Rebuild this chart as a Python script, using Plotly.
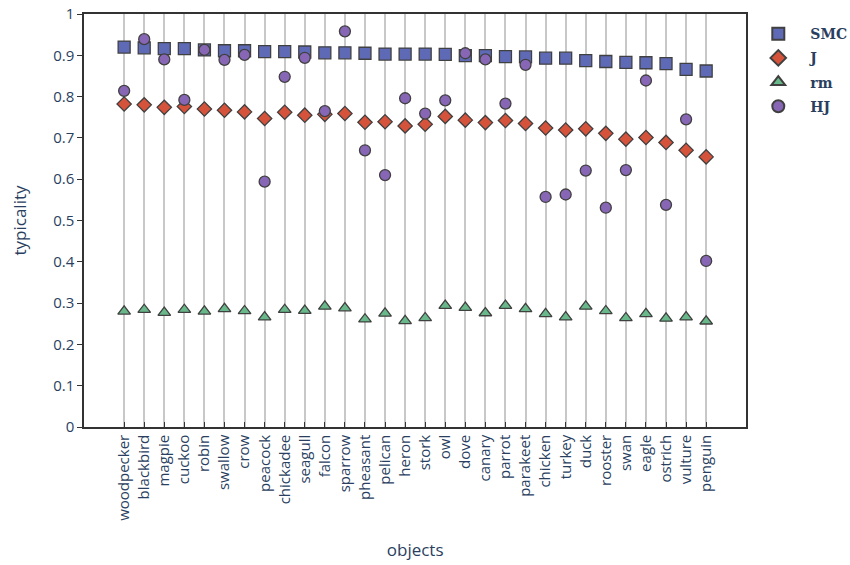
import plotly.graph_objects as go

objects = ["woodpecker", "blackbird", "magpie", "cuckoo", "robin", "swallow", "crow",
           "peacock", "chickadee", "seagull", "falcon", "sparrow", "pheasant", "pelican",
           "heron", "stork", "owl", "dove", "canary", "parrot", "parakeet", "chicken",
           "turkey", "duck", "rooster", "swan", "eagle", "ostrich", "vulture", "penguin"]

smc = [0.920, 0.918, 0.916, 0.916, 0.913, 0.911, 0.911, 0.909, 0.909, 0.908,
       0.906, 0.906, 0.905, 0.903, 0.903, 0.903, 0.902, 0.899, 0.899, 0.897,
       0.896, 0.893, 0.893, 0.887, 0.885, 0.883, 0.882, 0.880, 0.866, 0.862]

j = [0.782, 0.780, 0.774, 0.776, 0.770, 0.767, 0.763, 0.747, 0.762, 0.755,
     0.757, 0.759, 0.738, 0.739, 0.729, 0.733, 0.752, 0.743, 0.737, 0.742,
     0.735, 0.724, 0.719, 0.722, 0.711, 0.697, 0.701, 0.689, 0.670, 0.654]

rm = [0.280, 0.284, 0.277, 0.284, 0.280, 0.286, 0.281, 0.266, 0.284, 0.282,
      0.292, 0.288, 0.261, 0.275, 0.257, 0.264, 0.294, 0.289, 0.276, 0.294,
      0.286, 0.274, 0.266, 0.292, 0.281, 0.264, 0.274, 0.263, 0.266, 0.256]

hj = [0.814, 0.939, 0.890, 0.792, 0.913, 0.889, 0.901, 0.594, 0.848, 0.894,
      0.765, 0.958, 0.670, 0.610, 0.796, 0.759, 0.791, 0.905, 0.890, 0.783,
      0.877, 0.557, 0.563, 0.621, 0.531, 0.622, 0.839, 0.538, 0.745, 0.402]

series = [
    ("SMC", smc, "square", "#5f6ab6", 12),
    ("J", j, "diamond", "#d6533b", 11),
    ("rm", rm, "triangle-up", "#68b88a", 11),
    ("HJ", hj, "circle", "#8866b6", 11),
]

fig = go.Figure()
for name, vals, symbol, color, size in series:
    fig.add_trace(go.Scatter(
        x=objects, y=vals, name=name, mode="markers", legendgroup=name,
        marker=dict(symbol=symbol, color=color, size=size,
                    line=dict(color="#404040", width=1.3)),
    ))

axis_font = dict(family="Open Sans", size=15, color="#2a3f5f")

fig.update_layout(
    width=850, height=565,
    margin=dict(l=84, r=102, t=14, b=138),
    paper_bgcolor="white", plot_bgcolor="white",
    font=axis_font,
    showlegend=True,
    legend=dict(font=dict(family="DejaVu Serif", size=14, color="#2a3f5f", weight="bold"),
                xref="container", yref="container", bgcolor="rgba(0,0,0,0)",
                x=0.878, y=0.968, xanchor="left", yanchor="top",
                tracegroupgap=3, itemwidth=54, itemsizing="constant"),
    xaxis=dict(
        title=dict(text="objects", font=dict(size=17), standoff=24),
        type="category", range=[-2, 31], automargin=False,
        tickangle=-90, showgrid=True, gridcolor="#c8c8c8", gridwidth=2,
        showline=True, linecolor="#333", linewidth=1.5, mirror=True,
        ticks="inside", ticklen=5, tickcolor="#333",
        zeroline=False,
    ),
    yaxis=dict(
        title=dict(text="typicality", font=dict(size=17), standoff=22),
        range=[0, 1], dtick=0.1, tick0=0, automargin=False,
        showgrid=False, zeroline=False,
        showline=True, linecolor="#333", linewidth=1.5, mirror=True,
        ticks="outside", ticklen=5, tickcolor="#333",
    ),
)

fig.write_html("out.html")
